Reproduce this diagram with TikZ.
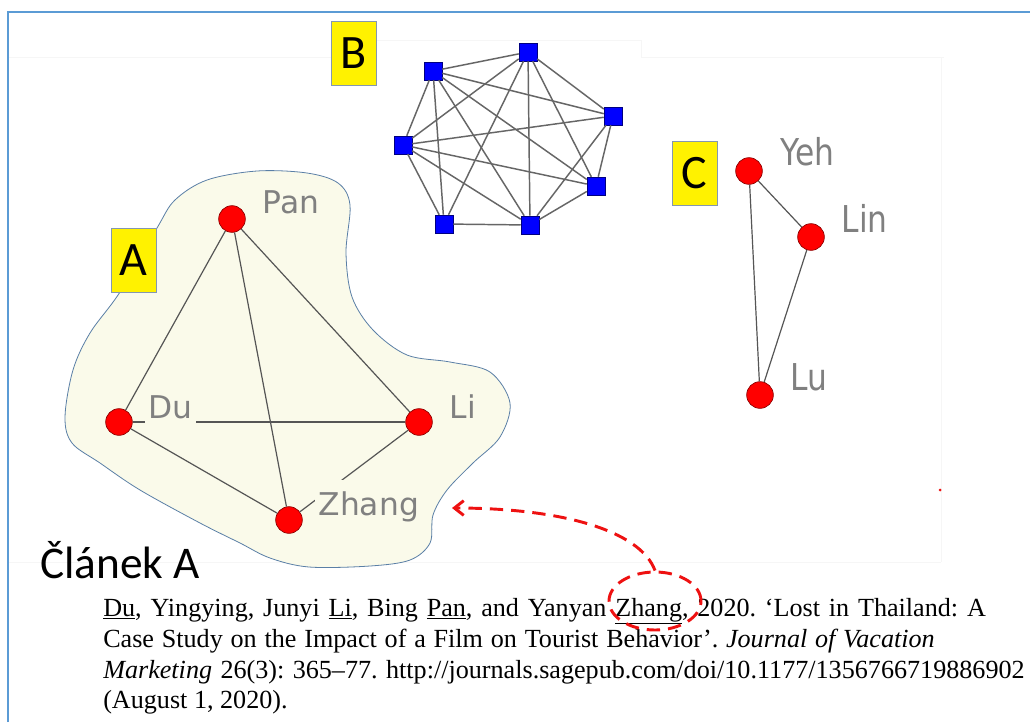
\documentclass[tikz,border=0pt]{standalone}
\usepackage{fontspec}
\setmainfont{Liberation Serif}
\newfontfamily\labfont{DejaVu Sans}
\newfontfamily\calfont{Carlito}
\usetikzlibrary{arrows.meta,shapes.geometric}
\definecolor{framecol}{HTML}{5B9BD5}
\definecolor{blobfill}{HTML}{FAFAEA}
\definecolor{blobline}{HTML}{5A7FA6}
\definecolor{boxline}{HTML}{8497B0}
\definecolor{labgray}{HTML}{808080}
\definecolor{edgegray}{HTML}{555555}
\definecolor{nodered}{HTML}{FF0000}
\definecolor{nodeblue}{HTML}{0000FF}
\definecolor{arrowred}{HTML}{EE1111}
\definecolor{faintcol}{HTML}{F6F6F6}
\tikzset{
  rnode/.style={circle, fill=nodered, draw=nodered!55!black, line width=0.5pt, minimum size=20pt, inner sep=0pt},
  bnode/.style={rectangle, fill=nodeblue, draw=nodeblue!50!black, line width=0.4pt, minimum size=13.5pt, inner sep=0pt},
  edgeA/.style={draw=edgegray, line width=0.9pt},
  edgeB/.style={draw=edgegray!90, line width=1.1pt},
  glabel/.style={font=\labfont\fontsize{23.5}{27}\selectfont, text=labgray, anchor=base west, inner sep=2.5pt, text height=24pt, text depth=6pt},
  lbox/.style={rectangle, fill=yellow, draw=boxline, line width=0.6pt, minimum width=33.75pt, minimum height=48pt, inner sep=0pt, font=\calfont\fontsize{36}{36}\selectfont},
  citeline/.style={anchor=base west, inner sep=0pt, font=\fontsize{19.6}{22}\selectfont},
  faint/.style={draw=faintcol, line width=0.4pt},
  reddash/.style={draw=arrowred, line width=2.2pt, dash pattern=on 10pt off 6pt},
}
\begin{document}
\frenchspacing
\begin{tikzpicture}[x=0.75pt,y=-0.75pt]
\useasboundingbox (0,0) rectangle (1030,722);
\fill[white] (0,0) rectangle (1030,722);
% faint image borders
\draw[faint] (8,57) -- (332,57);
\draw[faint] (376,40) -- (641,40) -- (641,57) -- (944,57);
\draw[faint] (941,57) -- (941,562);
\draw[faint] (8,562) -- (941,562);
\fill[arrowred] (940,490) circle (1.5);
% frame
\draw[framecol, line width=1.5pt] (8,722) -- (8,12) -- (1030,12);
% blob
\draw[blobline, fill=blobfill, line width=0.6pt] plot[smooth cycle, tension=0.55] coordinates {
 (157,228) (175,200) (207,180) (257,171) (307,173) (338,183) (350,205) (346,253)
 (352,297) (373,330) (407,355) (450,362) (490,372) (510,403) (500,437) (473,463)
 (447,490) (433,515) (430,543) (410,560) (370,566) (309,567) (270,558) (240,543)
 (200,523) (140,490) (100,463) (72,443) (65,417) (73,370) (90,333) (120,292)};
% graph A
\node[rnode] (pan) at (232,219) {};
\node[rnode] (du) at (119,422) {};
\node[rnode] (li) at (419,422) {};
\node[rnode] (zhang) at (289,520) {};
\draw[edgeA] (pan) -- (du);
\draw[edgeA] (pan) -- (li);
\draw[edgeA] (pan) -- (zhang);
\draw[edgeA] (du) -- (li);
\draw[edgeA] (du) -- (zhang);
\draw[edgeA] (li) -- (zhang);
\node[glabel, fill=blobfill] (lpan) at (259,213) {Pan};
\node[glabel, fill=blobfill] (ldu) at (145,418) {Du};
\node[glabel, fill=blobfill] (lli) at (446,418) {Li};
\node[glabel, fill=blobfill] (lzhang) at (315,515) {Zhang};
% graph B
\node[bnode] (b1) at (433,71) {};
\node[bnode] (b2) at (528,52) {};
\node[bnode] (b3) at (613,116) {};
\node[bnode] (b4) at (596,186) {};
\node[bnode] (b5) at (530,225) {};
\node[bnode] (b6) at (444,224) {};
\node[bnode] (b7) at (403,145) {};
\foreach \a/\b in {1/2,1/3,1/4,1/5,1/6,1/7,2/3,2/4,2/5,2/6,2/7,3/4,3/5,3/7,4/5,4/7,5/6,5/7,6/7}
  \draw[edgeB] (b\a) -- (b\b);
% graph C
\node[rnode] (yeh) at (749,171) {};
\node[rnode] (lin) at (811,237) {};
\node[rnode] (lu) at (760,395) {};
\draw[edgeA] (yeh) -- (lin);
\draw[edgeA] (yeh) -- (lu);
\draw[edgeA] (lin) -- (lu);
\node[glabel] (lyeh) at (777,165) {\scalebox{1}[1.18]{Yeh}};
\node[glabel] (llin) at (838,232) {\scalebox{1}[1.18]{Lin}};
\node[glabel] (llu) at (787,390) {\scalebox{1}[1.18]{Lu}};
% letter boxes
\node[lbox] (boxA) at (133.5,260) {A};
\node[lbox] (boxB) at (354,53.5) {B};
\node[lbox] (boxC) at (694.5,173.5) {C};
% caption
\node[anchor=base west, inner sep=0pt, font=\calfont\fontsize{34}{34}\selectfont] (clanek) at (40,578) {Článek A};
\node[citeline] (c1) at (103,616) {\spaceskip=6.6pt\relax\underline{Du}, Yingying, Junyi \underline{Li}, Bing \underline{Pan}, and Yanyan \underline{Zhang}, 2020. ‘Lost in Thailand: A};
\node[citeline] (c2) at (103,647) {\spaceskip=5.85pt\relax Case Study on the Impact of a Film on Tourist Behavior’. \textit{Journal of Vacation}};
\node[citeline] (c3) at (103,678) {\spaceskip=6.3pt\relax\textit{Marketing} 26(3): 365–77. http://journals.sagepub.com/doi/10.1177/1356766719886902};
\node[citeline] (c4) at (103,708) {(August 1, 2020).};
% red dashed ellipse and arrow
\node[ellipse, reddash, minimum width=69pt, minimum height=43.5pt, inner sep=0pt] (zel) at (655,601) {};
\coordinate (tip) at (452,508);
\draw[reddash, -{Straight Barb[length=7pt, width=11pt]}] (zel.north) .. controls (640,530) and (560,508) .. (tip);
\end{tikzpicture}
\end{document}
